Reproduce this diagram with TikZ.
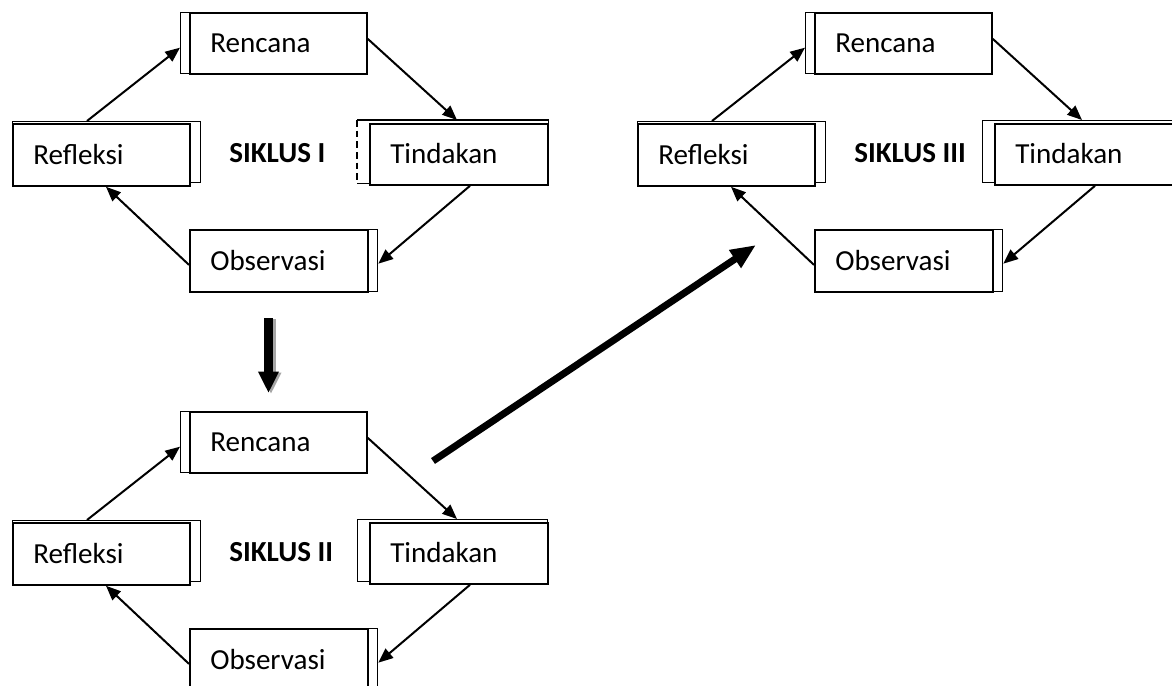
\documentclass[tikz,border=0pt]{standalone}
\usepackage{fontspec}
\setmainfont{Carlito}
\usetikzlibrary{arrows.meta,calc}
\newcommand\drawcycle[4]{%
  % #1 suffix, #2 tindakan back style, #3 extra code, #4 title
  \node[back,sz={186}{61}] (rb#1) at (180,12) {};
  \node[front,sz={177}{61}] (r#1) at (189,12) {};
  \node[lbl] at ([shift={(21,9.5)}]r#1.west) {Rencana};
  \node[back,sz={188}{61}] (fb#1) at (12,121) {};
  \node[front,sz={177}{62}] (f#1) at (12,123) {};
  \node[lbl] at ([shift={(21,9.5)}]f#1.west) {Refleksi};
  \node[back,sz={190}{62},#2] (tb#1) at (357,120) {};
  #3
  \node[front,sz={178}{61}] (t#1) at (369,123) {};
  \node[lbl] at ([shift={(21,9.5)}]t#1.west) {Tindakan};
  \node[back,sz={188}{62}] (ob#1) at (189,229) {};
  \node[front,sz={178}{62}] (o#1) at (189,229) {};
  \node[lbl] at ([shift={(21,9.5)}]o#1.west) {Observasi};
  \node[title] (s#1) at (229,162) {#4};
  \draw[link] ([shift={(75,0)}]fb#1.north west) -- ([shift={(0,4.5)}]rb#1.west);
  \draw[link] ([shift={(0,-4.5)}]r#1.east) -- ([shift={(100,0)}]tb#1.north west);
  \draw[link] ([shift={(101,0)}]t#1.south west) -- ([shift={(0,3)}]ob#1.east);
  \draw[link] ([shift={(0,4)}]o#1.west) -- ([shift={(94,0)}]f#1.south west);
}
\begin{document}
\begin{tikzpicture}[x=0.75pt,y=-0.75pt,
  sz/.style 2 args={minimum width=#1*0.75pt,minimum height=#2*0.75pt},
  front/.style={draw,line width=1.35pt,fill=white,rectangle,inner sep=0pt,anchor=north west},
  back/.style={draw,line width=1pt,fill=white,rectangle,inner sep=0pt,anchor=north west},
  lbl/.style={anchor=base west,inner sep=0pt,font=\fontsize{21.8}{26}\selectfont},
  title/.style={anchor=base west,inner sep=0pt,font=\fontsize{21.8}{26}\selectfont\bfseries},
  link/.style={line width=1.5pt,-{Triangle[length=11pt,width=9pt]}},
  bigdown/.style={line width=6.75pt,-{Triangle[length=16pt,width=14.5pt]}},
  bigdiag/.style={line width=5.25pt,-{Triangle[length=19pt,width=15pt]}},
]
\useasboundingbox (0,0) rectangle (1172,686);
\fill[white] (0,0) rectangle (1172,686);

% Siklus I
\drawcycle{1}{draw=none}{%
  \draw[line width=1pt] (tb1.north west) -- (tb1.north east) -- (tb1.south east) -- (tb1.south west);
  \draw[line width=1pt,dash pattern=on 5pt off 3pt] (tb1.north west) -- (tb1.south west);
}{SIKLUS I}

% Siklus II
\begin{scope}[shift={(0,399)}]
\drawcycle{2}{}{}{SIKLUS II}
\end{scope}

% Siklus III
\begin{scope}[shift={(625,0)}]
\drawcycle{3}{}{}{SIKLUS III}
\end{scope}

% big arrows
\coordinate (d1) at (268.5,318);
\coordinate (d2) at (268.5,393);
\coordinate (d1s) at (271,319);
\coordinate (d2s) at (271,394);
\draw[bigdown,gray!70] (d1s) -- (d2s);
\draw[bigdown] (d1) -- (d2);

\coordinate (g1) at (433,461);
\coordinate (g2) at (756,245);
\draw[bigdiag] (g1) -- (g2);
\end{tikzpicture}
\end{document}
